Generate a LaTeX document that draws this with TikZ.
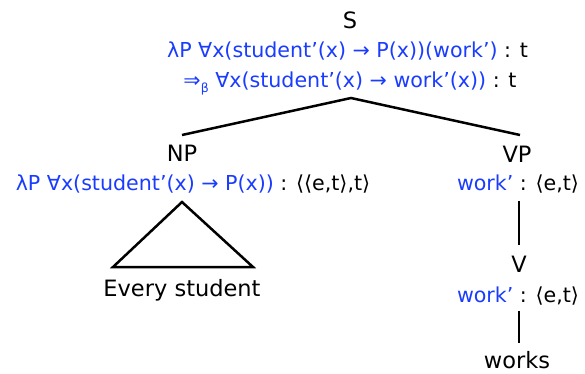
\documentclass[tikz,border=0pt]{standalone}
\usepackage{fontspec}
\setmainfont{DejaVu Sans}
\definecolor{semblue}{RGB}{26,60,255}
\newcommand{\sem}[1]{\textcolor{semblue}{#1}}
\newcommand{\betasub}{\raisebox{-0.25em}{\fontsize{12.5}{12.5}\selectfont β}}
\begin{document}
\begin{tikzpicture}[x=1pt,y=-1pt,
  lbl/.style={anchor=base,inner sep=0pt,font=\fontsize{22.5}{22.5}\selectfont},
  semlbl/.style={anchor=base,inner sep=0pt,font=\fontsize{20.6}{20.6}\selectfont},
  branch/.style={line width=2.5pt}]
\useasboundingbox (0,0) rectangle (585,373);
% S
\node[lbl] (S) at (350,28) {S};
\node[semlbl] (S1) at (347.5,57) {\sem{λP ∀x(student’(x) → P(x))(work’)} : t};
\node[semlbl] (S2) at (350,87) {\sem{⇒\betasub\ ∀x(student’(x) → work’(x))} : t};
% NP
\node[lbl] (NP) at (182,161) {NP};
\node[semlbl] (NP1) at (193,190) {\sem{λP ∀x(student’(x) → P(x))} : ⟨⟨e,t⟩,t⟩};
\node[lbl] (ES) at (182,296) {Every student};
% VP
\node[lbl] (VP) at (517,162) {VP};
\node[semlbl] (VP1) at (518,190) {\sem{work’} : ⟨e,t⟩};
\node[lbl] (V) at (519,272) {V};
\node[semlbl] (V1) at (518,302) {\sem{work’} : ⟨e,t⟩};
\node[lbl] (W) at (517,368) {works};
% connector ends
\coordinate (Sapex) at (351,98);
\coordinate (NPtop) at (182,135);
\coordinate (VPtop) at (520,135);
\coordinate (VPbot) at (519,201);
\coordinate (Vtop) at (519,245);
\coordinate (Vbot) at (519,311);
\coordinate (Wtop) at (519,343);
\coordinate (Tapex) at (182,202);
\coordinate (TL) at (113,267);
\coordinate (TR) at (253,267);
\draw[branch] (NPtop) -- (Sapex) -- (VPtop);
\draw[branch] (VPbot) -- (Vtop);
\draw[branch] (Vbot) -- (Wtop);
\draw[branch,line join=miter] (Tapex) -- (TR) -- (TL) -- cycle;
\end{tikzpicture}
\end{document}
